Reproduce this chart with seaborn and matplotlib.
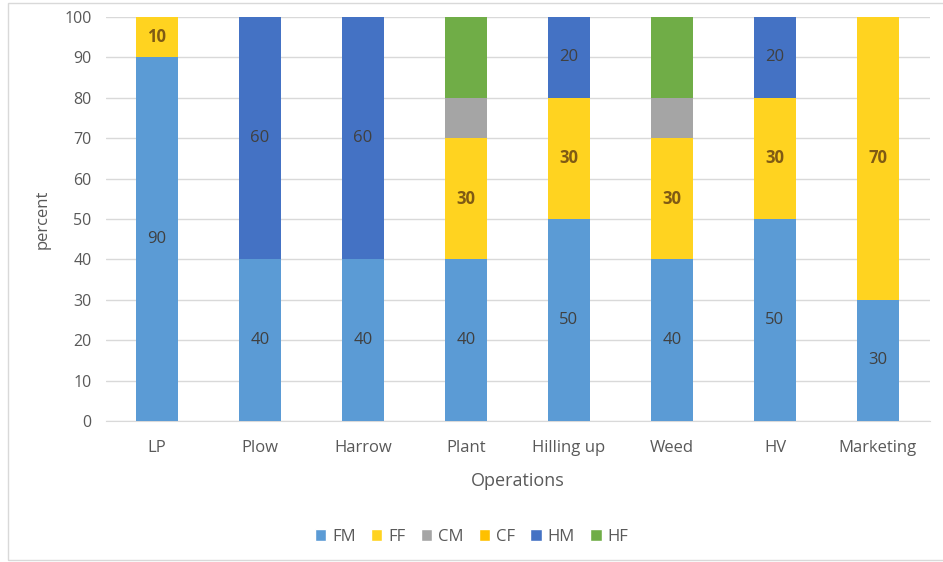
import numpy as np
import pandas as pd
import matplotlib.pyplot as plt
import seaborn as sns
from matplotlib.patches import Rectangle, Patch

# Data
operations = ['LP', 'Plow', 'Harrow', 'Plant', 'Hilling up', 'Weed', 'HV', 'Marketing']
series = ['FM', 'FF', 'CM', 'CF', 'HM', 'HF']
fm = [90, 40, 40, 40, 50, 40, 50, 30]
ff = [10, 0, 0, 30, 30, 30, 30, 70]
cm = [0, 0, 0, 10, 0, 10, 0, 0]
cf = [0, 0, 0, 0, 0, 0, 0, 0]
hm = [0, 60, 60, 0, 20, 0, 20, 0]
hf = [0, 0, 0, 20, 0, 20, 0, 0]
labelled = ['FM', 'FF', 'HM']

colors = {'FM': '#5B9BD5', 'FF': '#FFD320', 'CM': '#A5A5A5',
          'CF': '#FFC000', 'HM': '#4472C4', 'HF': '#70AD47'}
label_style = {'FM': dict(color='#404040', fontweight='normal'),
               'FF': dict(color='#7F5A14', fontweight='bold'),
               'HM': dict(color='#404040', fontweight='normal')}

df = pd.DataFrame({'Operations': operations, 'FM': fm, 'FF': ff, 'CM': cm,
                   'CF': cf, 'HM': hm, 'HF': hf})

sns.set_style('white')
plt.rcParams['font.family'] = ['Open Sans', 'DejaVu Sans']

fig = plt.figure(figsize=(9.43, 5.62), dpi=100)
ax = fig.add_axes([105.5 / 943, 1 - 421 / 562, 824 / 943, 404 / 562])

# stacked bars: draw cumulative totals from the top series down
cum = df[series].cumsum(axis=1)
for s in reversed(series):
    sns.barplot(x=df['Operations'], y=cum[s], color=colors[s], width=0.4,
                linewidth=0, saturation=1, order=operations, ax=ax, zorder=3)

# segment labels
bottoms = cum.shift(1, axis=1).fillna(0)
for s in labelled:
    for i, v in enumerate(df[s]):
        if v > 0:
            ax.text(i, bottoms[s][i] + v / 2, str(v), ha='center', va='center',
                    fontsize=12, zorder=4, **label_style[s])

ax.set_ylim(0, 100)
ax.set_xlim(-0.5, len(operations) - 0.5)
ax.set_yticks(np.arange(0, 101, 10))
ax.yaxis.grid(True, color='#D9D9D9', linewidth=1, zorder=0)
ax.set_axisbelow(True)
for side in ['top', 'right', 'left']:
    ax.spines[side].set_visible(False)
ax.spines['bottom'].set_color('#D9D9D9')
ax.tick_params(axis='y', length=0, labelsize=11.5, labelcolor='#595959', pad=10)
ax.tick_params(axis='x', length=0, labelsize=12, labelcolor='#595959', pad=14)
ax.set_xlabel('Operations', fontsize=13, color='#595959', labelpad=11)
ax.set_ylabel('percent', fontsize=12, color='#595959', labelpad=10)

handles = [Patch(facecolor=colors[s], label=s) for s in series]
fig.legend(handles=handles, loc='center', bbox_to_anchor=(0.5, 1 - 537 / 562),
           ncol=6, frameon=False, fontsize=12, handlelength=0.7, handleheight=0.7,
           handletextpad=0.35, columnspacing=0.9, labelcolor='#595959')

fig.patches.append(Rectangle((8 / 943, 0.004), 1.0, 0.99, transform=fig.transFigure,
                             fill=False, edgecolor='#D9D9D9', linewidth=1))

fig.savefig('out.png', dpi=100)
